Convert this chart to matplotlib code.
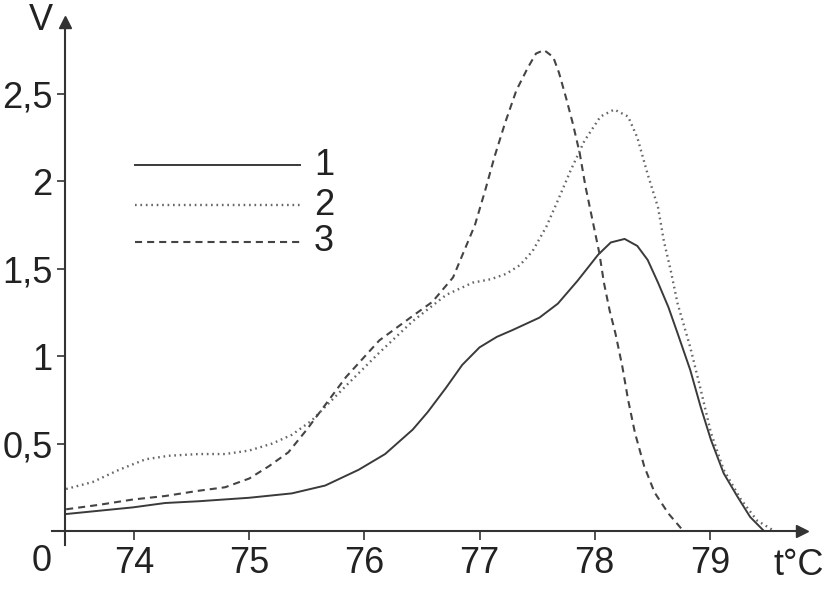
import numpy as np
import matplotlib.pyplot as plt

plt.rcParams['font.family'] = ['Liberation Sans', 'DejaVu Sans']

# кривая 1 (сплошная)
t1 = [73.41, 73.7, 73.99, 74.27, 74.56, 75.0, 75.37, 75.66, 75.95, 76.18,
      76.42, 76.55, 76.71, 76.85, 77.0, 77.15, 77.29, 77.52, 77.6, 77.68,
      77.85, 78.03, 78.14, 78.26, 78.37, 78.46, 78.55, 78.64, 78.72, 78.83,
      78.92, 79.01, 79.12, 79.24, 79.35, 79.47]
v1 = [0.097, 0.116, 0.135, 0.16, 0.17, 0.19, 0.215, 0.26, 0.35, 0.44,
      0.58, 0.68, 0.82, 0.95, 1.05, 1.11, 1.15, 1.22, 1.26, 1.30,
      1.43, 1.58, 1.65, 1.67, 1.63, 1.55, 1.42, 1.28, 1.13, 0.92,
      0.71, 0.52, 0.33, 0.196, 0.08, 0.0]

# кривая 2 (точки)
t2 = [73.41, 73.64, 73.87, 74.1, 74.3, 74.56, 74.79, 75.0, 75.2, 75.37,
      75.54, 75.84, 76.13, 76.42, 76.71, 76.94, 77.1, 77.23, 77.35, 77.46,
      77.58, 77.68, 77.79, 77.91, 78.05, 78.17, 78.29, 78.37, 78.46, 78.55,
      78.6, 78.66, 78.72, 78.83, 78.92, 79.01, 79.12, 79.27, 79.41, 79.56]
v2 = [0.24, 0.28, 0.35, 0.41, 0.43, 0.44, 0.44, 0.46, 0.50, 0.55,
      0.63, 0.83, 1.02, 1.20, 1.35, 1.42, 1.44, 1.47, 1.52, 1.60,
      1.74, 1.89, 2.06, 2.23, 2.37, 2.41, 2.37, 2.25, 2.04, 1.85,
      1.66, 1.49, 1.30, 1.05, 0.81, 0.56, 0.35, 0.18, 0.06, 0.0]

# кривая 3 (штрих)
t3 = [73.41, 73.7, 73.99, 74.27, 74.56, 74.79, 75.0, 75.17, 75.34, 75.5,
      75.84, 76.13, 76.42, 76.59, 76.77, 76.96, 77.05, 77.13, 77.22, 77.32,
      77.42, 77.49, 77.56, 77.64, 77.69, 77.75, 77.81, 77.87, 77.92, 77.98,
      78.04, 78.08, 78.13, 78.18, 78.24, 78.29, 78.35, 78.43, 78.52, 78.64,
      78.77]
v3 = [0.124, 0.15, 0.18, 0.20, 0.23, 0.25, 0.30, 0.37, 0.45, 0.58,
      0.88, 1.09, 1.23, 1.31, 1.45, 1.75, 1.95, 2.14, 2.33, 2.52,
      2.65, 2.73, 2.75, 2.71, 2.62, 2.48, 2.33, 2.16, 1.97, 1.78,
      1.59, 1.42, 1.26, 1.13, 0.94, 0.75, 0.56, 0.37, 0.22, 0.10,
      0.0]

xticks = [74, 75, 76, 77, 78, 79]
yticks = [0.5, 1, 1.5, 2, 2.5]
ylabels = ['0,5', '1', '1,5', '2', '2,5']
nomes = ['1', '2', '3']

cor = '#333333'
ctexto = '#222222'
fs = 26
fig = plt.figure(figsize=(8.29, 5.89), dpi=100)
ax = fig.add_axes([0.0784, 0.0985, 0.889, 0.864])

estilos = [('-', '#3a3a3a', 1.4), ((0, (0.7, 1.6)), '#666666', 1.7), ((0, (3.4, 2.4)), '#444444', 1.5)]
for (t, v), (ls, c, lw) in zip([(t1, v1), (t2, v2), (t3, v3)], estilos):
    ax.plot(t, v, ls=ls, color=c, lw=lw)

ax.set_xlim(73.4, 79.8)
ax.set_ylim(0, 2.91)
for s in ax.spines.values():
    s.set_visible(False)

# eixos com setas
ax.plot([-0.018, 1], [0, 0], color=cor, lw=1.5, transform=ax.transAxes, clip_on=False)
ax.plot([0, 0], [-0.028, 1], color=cor, lw=1.5, transform=ax.transAxes, clip_on=False)
ax.plot(1, 0, '>', color=cor, ms=9, transform=ax.transAxes, clip_on=False)
ax.plot(0, 1, '^', color=cor, ms=9, transform=ax.transAxes, clip_on=False)

ax.set_xticks(xticks)
ax.set_xticklabels([str(x) for x in xticks])
ax.set_yticks(yticks)
ax.set_yticklabels(ylabels)
ax.tick_params(direction='out', width=1.2, color=cor,
               labelsize=fs, labelcolor=ctexto)
ax.tick_params(axis='x', length=6.5, pad=4)
ax.tick_params(axis='y', length=5.8, pad=3)

# legenda desenhada à mão
ys = [0.719, 0.640, 0.568]
for (ls, c, lw), y, n in zip(estilos, ys, nomes):
    ax.plot([0.095, 0.319], [y, y], ls=ls, color=c, lw=lw, transform=ax.transAxes)
    ax.text(0.338, y, n, fontsize=fs, color=ctexto, va='center', ha='left',
            transform=ax.transAxes)

fig.text(0.0495, 0.966, 'V', fontsize=fs, color=ctexto, ha='center', va='center')
fig.text(0.050, 0.0475, '0', fontsize=fs, color=ctexto, ha='center', va='center')
fig.text(0.964, 0.0407, 't°C', fontsize=fs, color=ctexto, ha='center', va='center')

fig.savefig('out.png', dpi=100)
